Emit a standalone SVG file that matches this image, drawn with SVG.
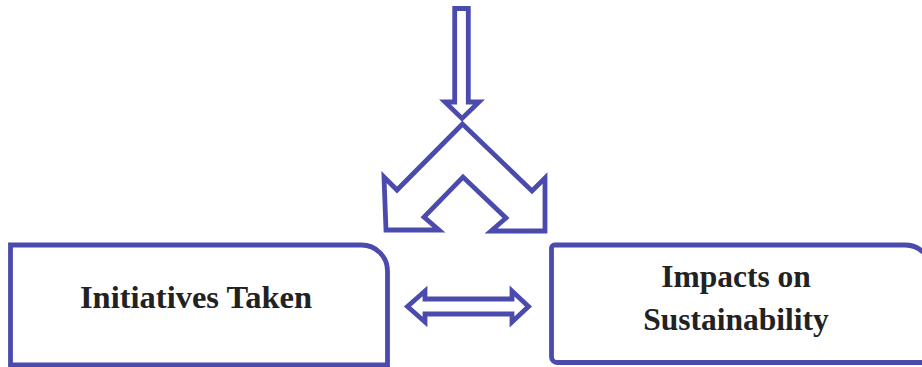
<svg xmlns="http://www.w3.org/2000/svg" width="922" height="367" viewBox="0 0 922 367">
<style>
.s{fill:#ffffff;stroke:#4b4bad;stroke-width:4.8;stroke-linejoin:miter;stroke-miterlimit:10}
.t{font-family:"Liberation Serif","Times New Roman",serif;font-weight:bold;font-size:31.5px;fill:#222222;text-anchor:middle}
</style>
<rect width="922" height="367" fill="#ffffff"/>
<g id="connectors">
<path id="down-arrow" class="s" d="M454.7,8.5 H468.3 V102 H479 L462,118.5 L445,102 H454.7 Z"/>
<path id="split-arrow" class="s" d="M462.5,124 L397,190 L384,177 L386,230 L439,230 L424,217 L463,177 L506,218 L491,231 L545,231 L545,178 L532,191 Z"/>
<path id="double-arrow" class="s" d="M407.5,306.5 L425,291 V299 H512 V291 L528.5,306.5 L512,322 V314 H425 V322 Z"/>
</g>
<g id="node-initiatives">
<path class="s" d="M10.5,365 V245 H361.5 A26,26 0 0 1 387.5,271 V365 Z"/>
<text class="t" x="196" y="308" style="font-size:32.5px">Initiatives Taken</text>
</g>
<g id="node-impacts">
<path class="s" d="M554.5,245 H905 A27,27 0 0 1 932,272 V362.5 H557 A5.5,5.5 0 0 1 551.5,357 V248 A3,3 0 0 1 554.5,245 Z"/>
<text class="t" x="736" y="287">Impacts on</text>
<text class="t" x="736" y="329.5">Sustainability</text>
</g>
</svg>
